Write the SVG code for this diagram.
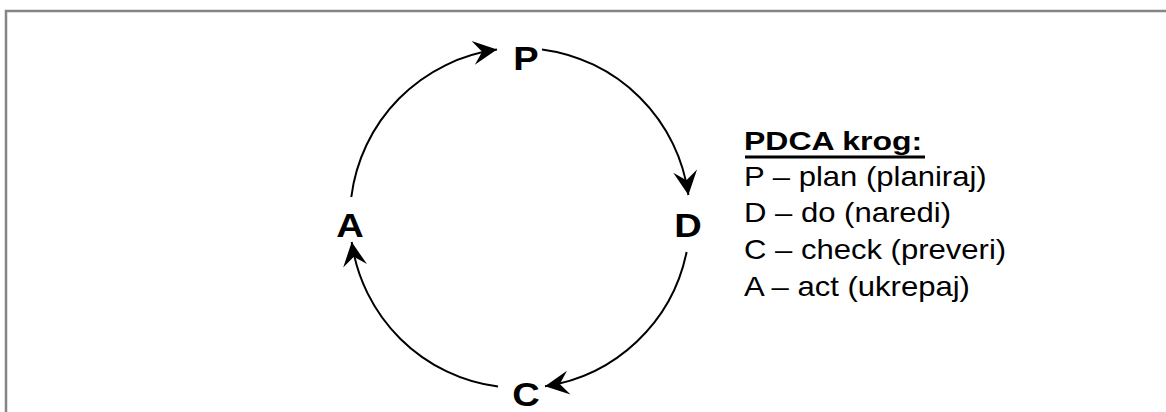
<svg xmlns="http://www.w3.org/2000/svg" width="1166" height="412" viewBox="0 0 1166 412">
  <style>
    .frame { fill: #ffffff; stroke: #858585; stroke-width: 2.5; }
    .arc { fill: none; stroke: #000000; stroke-width: 2; marker-end: url(#head); }
    .step { font-family: "Liberation Sans", Arial, sans-serif; font-weight: bold; font-size: 34px; fill: #000000; text-anchor: middle; }
    .legend { font-family: "Liberation Sans", Arial, sans-serif; font-size: 27px; fill: #000000; }
    .legend-title { font-weight: bold; font-size: 26px; }
  </style>
  <defs>
    <marker id="head" markerUnits="userSpaceOnUse" viewBox="-26 -14 28 28" markerWidth="28" markerHeight="28" refX="0" refY="0" orient="auto">
      <path d="M0,0 L-24,-12 L-15,0 L-24,12 Z" fill="#000000"/>
    </marker>
  </defs>

  <rect class="frame" x="6" y="11" width="1175" height="420"/>

  <!-- cycle arrows (radius 170 around 520,218) -->
  <g id="connectors">
    <path class="arc" d="M351.3,197 A170,170 0 0,1 497,49.6"/>
    <path class="arc" d="M542,49.4 A170,170 0 0,1 688.4,195"/>
    <path class="arc" d="M686.6,252 A170,170 0 0,1 545,386.2"/>
    <path class="arc" d="M498,386.6 A170,170 0 0,1 351.7,242"/>
  </g>

  <g id="node-p"><text class="step" transform="translate(526,70) scale(1.12,1)">P</text></g>
  <g id="node-d"><text class="step" transform="translate(688,237) scale(1.12,1)">D</text></g>
  <g id="node-c"><text class="step" transform="translate(526,406) scale(1.12,1)">C</text></g>
  <g id="node-a"><text class="step" transform="translate(350,237) scale(1.12,1)">A</text></g>

  <g id="legend">
    <text class="legend legend-title" transform="translate(744,150) scale(1.23,1)">PDCA krog:</text>
    <g transform="translate(744,0) scale(1.15,1)">
      <text class="legend" x="0" y="186">P – plan (planiraj)</text>
      <text class="legend" x="0" y="222">D – do (naredi)</text>
      <text class="legend" x="0" y="259">C – check (preveri)</text>
      <text class="legend" x="0" y="296">A – act (ukrepaj)</text>
    </g>
    <rect x="745" y="155.5" width="180" height="3" fill="#000000"/>
  </g>
</svg>
